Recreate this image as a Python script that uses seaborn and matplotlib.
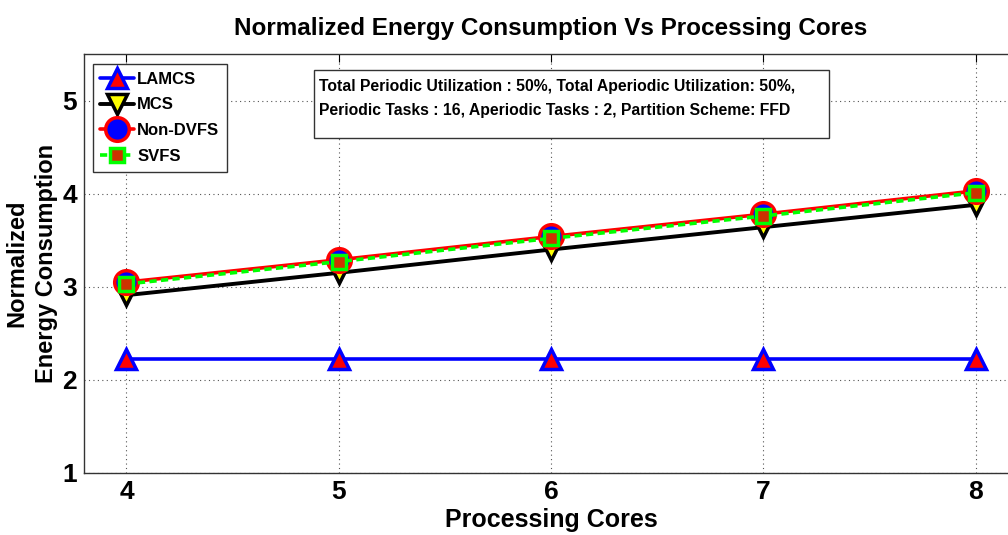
import matplotlib
matplotlib.use("Agg")
import matplotlib.pyplot as plt
import seaborn as sns
import pandas as pd
from matplotlib.patches import Rectangle

cores = [4, 5, 6, 7, 8]
lamcs = [2.22, 2.22, 2.22, 2.22, 2.22]
mcs = [2.91, 3.15, 3.40, 3.64, 3.88]
non_dvfs = [3.05, 3.29, 3.54, 3.78, 4.03]
svfs = [3.03, 3.27, 3.52, 3.76, 4.01]
series_names = ["LAMCS", "MCS", "Non-DVFS", "SVFS"]
x_ticks = [4, 5, 6, 7, 8]
y_ticks = [1, 2, 3, 4, 5]
title = "Normalized Energy Consumption Vs Processing Cores"
xlabel = "Processing Cores"
ylabel = "Normalized\nEnergy Consumption"
info = ("Total Periodic Utilization : 50%, Total Aperiodic Utilization: 50%,\n"
        "Periodic Tasks : 16, Aperiodic Tasks : 2, Partition Scheme: FFD")

sns.set_style("white")
plt.rcParams["font.family"] = ["Liberation Sans", "DejaVu Sans"]
plt.rcParams["text.color"] = "black"
plt.rcParams["axes.labelcolor"] = "black"
plt.rcParams["xtick.color"] = "black"
plt.rcParams["ytick.color"] = "black"

fig = plt.figure(figsize=(10.08, 5.35), dpi=100)
ax = fig.add_axes([84 / 1008, 62 / 535, 934 / 1008, 419 / 535])

styles = [
    dict(color="#0000FF", marker="^", markersize=14, markerfacecolor="#FF0000",
         markeredgecolor="#0000FF", markeredgewidth=2.5, linewidth=2.6, linestyle="-"),
    dict(color="#000000", marker="v", markersize=14, markerfacecolor="#FFFF00",
         markeredgecolor="#000000", markeredgewidth=2.5, linewidth=2.8, linestyle="-"),
    dict(color="#FF0000", marker="o", markersize=17, markerfacecolor="#0000FF",
         markeredgecolor="#FF0000", markeredgewidth=2.5, linewidth=2.6, linestyle="-"),
    dict(color="#00FF00", marker="s", markersize=10, markerfacecolor="#CC3300",
         markeredgecolor="#00FF00", markeredgewidth=2.5, linewidth=2.6, linestyle=(0, (2.0, 1.2))),
]

for name, vals, st in zip(series_names, [lamcs, mcs, non_dvfs, svfs], styles):
    df = pd.DataFrame({"x": cores, "y": vals})
    sns.lineplot(data=df, x="x", y="y", ax=ax, label=name, **st)

ax.set_xlim(3.8, 8.2)
ax.set_ylim(1, 5.5)
ax.set_xticks(x_ticks)
ax.set_yticks(y_ticks)
ax.set_xticklabels([str(t) for t in x_ticks], fontsize=19, fontweight="bold")
ax.set_yticklabels([str(t) for t in y_ticks], fontsize=19, fontweight="bold")
ax.tick_params(direction="in", top=True, right=True, length=6, width=0.8, pad=5)
ax.grid(True, linestyle=(0, (1, 3)), color="#555555", linewidth=0.8)
for sp in ax.spines.values():
    sp.set_color("#333333")
    sp.set_linewidth(1.0)

ax.set_xlabel(xlabel, fontsize=18, fontweight="bold", labelpad=3)
ax.set_ylabel(ylabel, fontsize=17, fontweight="bold", labelpad=3, linespacing=1.4)
ax.set_title(title, fontsize=17.5, fontweight="bold", pad=14)

leg = ax.legend(loc="upper left", bbox_to_anchor=(0.0096, 0.976), borderaxespad=0,
                prop=dict(size=12, weight="bold"), frameon=True, fancybox=False,
                handlelength=2.0, handletextpad=0.2, labelspacing=0.65,
                borderpad=0.45, edgecolor="#333333", framealpha=1)
leg.get_frame().set_linewidth(1.0)

ax.add_patch(Rectangle((0.2463, 0.7995), 0.5513, 0.1625, transform=ax.transAxes,
                       facecolor="white", edgecolor="#333333", linewidth=1.0, zorder=5))
ax.text(0.2516, 0.94, info, transform=ax.transAxes, ha="left", va="top",
        fontsize=11.3, fontweight="bold", linespacing=1.7, zorder=6)

fig.savefig("out.png", dpi=100)
